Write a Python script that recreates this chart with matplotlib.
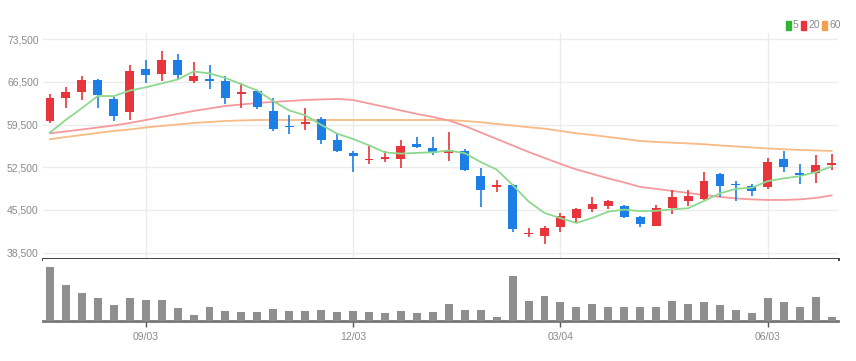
import numpy as np
import pandas as pd
import matplotlib
matplotlib.use("Agg")
import matplotlib.pyplot as plt
from matplotlib.patches import Rectangle

# weekly candles
opens  = [60100, 63900, 64900, 66900, 63700, 61500, 68600, 67800, 70100, 66700,
          67000, 66700, 64600, 65000, 61800, 59300, 59600, 60500, 56900, 54800,
          53700, 53900, 53900, 56400, 55700, 54900, 55200, 51100, 49200, 49600,
          41500, 41200, 42700, 44100, 45600, 46200, 46200, 44400, 42900, 45800,
          47000, 47300, 51400, 49800, 49400, 49300, 53800, 51500, 51500, 52800]
closes = [63800, 64900, 66900, 64400, 60900, 68300, 67600, 70100, 67600, 67500,
          66700, 63900, 64900, 62400, 58800, 59100, 60000, 57000, 55200, 54400,
          53900, 54200, 56000, 55800, 54900, 55300, 52100, 48700, 49600, 42300,
          41800, 42600, 44500, 45600, 46500, 46900, 44300, 43200, 45900, 47700,
          47800, 50300, 49400, 49600, 48600, 53300, 52500, 51200, 52900, 53200]
highs  = [64600, 65700, 67400, 67000, 64100, 69300, 70100, 71600, 71100, 69800,
          69300, 67400, 66300, 65200, 63800, 61100, 62300, 60700, 58200, 55200,
          56000, 55200, 57000, 57400, 57400, 58300, 55500, 52300, 50400, 49700,
          42500, 42800, 45000, 45800, 47700, 47100, 46300, 44500, 46300, 48800,
          48800, 51800, 51600, 50300, 49700, 54000, 55200, 53000, 54500, 54700]
lows   = [59700, 62200, 63500, 62300, 60100, 60300, 66300, 66700, 66900, 66300,
          65300, 62900, 62300, 62000, 58500, 57900, 58600, 56400, 55000, 51800,
          53000, 53300, 52300, 55600, 54500, 53600, 51900, 46000, 48500, 41900,
          41100, 39900, 41900, 43400, 45200, 45600, 44100, 42700, 42800, 44800,
          46200, 47100, 47700, 46900, 47800, 48900, 51800, 49800, 50000, 52000]
volumes = [1074, 720, 566, 454, 320, 454, 420, 420, 254, 120,
           274, 206, 186, 186, 240, 206, 206, 220, 174, 206,
           186, 154, 206, 154, 186, 334, 220, 220, 74, 906,
           406, 506, 374, 286, 340, 274, 274, 274, 274, 406,
           340, 374, 320, 220, 154, 454, 374, 286, 486, 86]

# first MA5 points depend on weeks before the window
ma5_head = [58200, 60300, 62200, 64200]
ma20 = [58080, 58380, 58700, 59030, 59360, 59770, 60260, 60760, 61250, 61740,
        62150, 62560, 62800, 63050, 63220, 63380, 63540, 63630, 63710, 63540,
        62970, 62400, 61820, 61250, 60760, 60180, 59280, 58210, 57150, 56080,
        55010, 54030, 53050, 52140, 51410, 50670, 50010, 49280, 48950, 48620,
        48290, 47960, 47640, 47390, 47230, 47140, 47140, 47230, 47470, 47880]
ma60 = [57100, 57470, 57800, 58130, 58460, 58700, 59030, 59280, 59520, 59770,
        59930, 60100, 60180, 60260, 60260, 60260, 60260, 60260, 60260, 60260,
        60260, 60260, 60260, 60260, 60260, 60260, 60100, 59890, 59610, 59360,
        59070, 58840, 58460, 58080, 57800, 57470, 57150, 56820, 56650, 56540,
        56410, 56280, 56080, 55920, 55750, 55590, 55460, 55340, 55260, 55180]

yticks = [38500, 45500, 52500, 59500, 66500, 73500]
xtick_pos = [6, 19, 32, 45]
xtick_labels = ["09/03", "12/03", "03/04", "06/03"]

UP = "#e8343a"
DOWN = "#1c7fe6"
TXT = "#8a8a8a"

plt.rcParams['font.family'] = ['Liberation Sans', 'DejaVu Sans']

ma5 = pd.Series(closes).rolling(5).mean()
ma5[:4] = ma5_head

x = np.arange(len(closes))
o = np.array(opens)
c = np.array(closes)
up = c >= o
colors = np.where(up, UP, DOWN)
body_bot = np.minimum(o, c)
body_h = np.maximum(np.abs(c - o), 180)

fig = plt.figure(figsize=(8.56, 3.61), dpi=100)
ax = fig.add_axes([0.0502, 0.2825, 0.9288, 0.6261])
axv = fig.add_axes([0.0502, 0.1108, 0.9288, 0.1717], sharex=ax)

ax.vlines(x, lows, highs, colors=colors, linewidth=1.2, zorder=3)
ax.bar(x, body_h, bottom=body_bot, width=0.56, color=colors, zorder=4)
ax.plot(x, ma60, color="#f7bb85", lw=1.3, zorder=2)
ax.plot(x, ma20, color="#f49a9e", lw=1.3, zorder=2)
ax.plot(x, ma5, color="#8fd88f", lw=1.3, zorder=5)

ax.set_xlim(-0.44, 49.4)
ax.set_ylim(37450, 74530)
ax.set_yticks(yticks)
ax.set_yticklabels([f"{v:,}" for v in yticks])
ax.tick_params(axis='y', length=0, labelsize=7.5, colors=TXT, pad=3)
ax.tick_params(axis='x', length=0, labelbottom=False)
ax.set_xticks(xtick_pos)
ax.grid(True, color="#ececec", lw=1, zorder=0)
for s in ["top", "right", "left"]:
    ax.spines[s].set_visible(False)
ax.spines["bottom"].set_color("#333333")
ax.spines["bottom"].set_linewidth(2)

axv.bar(x, volumes, width=0.5, color="#8f8f8f", zorder=3)
axv.set_ylim(0, 1240)
axv.set_yticks([])
axv.set_xticks(xtick_pos)
axv.set_xticklabels(xtick_labels)
axv.tick_params(axis='x', length=4, width=1, color="#555555", labelsize=7.5,
                labelcolor=TXT, pad=4)
for s in ["top", "right", "left"]:
    axv.spines[s].set_visible(False)
axv.spines["bottom"].set_color("#777777")
axv.spines["bottom"].set_linewidth(2)

# legend: 5 / 20 / 60
items = [("5", "#2fb52f", 786), ("20", UP, 801), ("60", "#f0a14f", 822)]
for lab, col, px in items:
    fig.patches.append(Rectangle((px / 856, 1 - 30 / 361), 5 / 856, 9 / 361,
                                 color=col, transform=fig.transFigure, figure=fig))
    fig.text((px + 7) / 856, 1 - 25.5 / 361, lab, color=TXT, fontsize=7.5,
             va="center")

fig.savefig("out.png", dpi=100)
